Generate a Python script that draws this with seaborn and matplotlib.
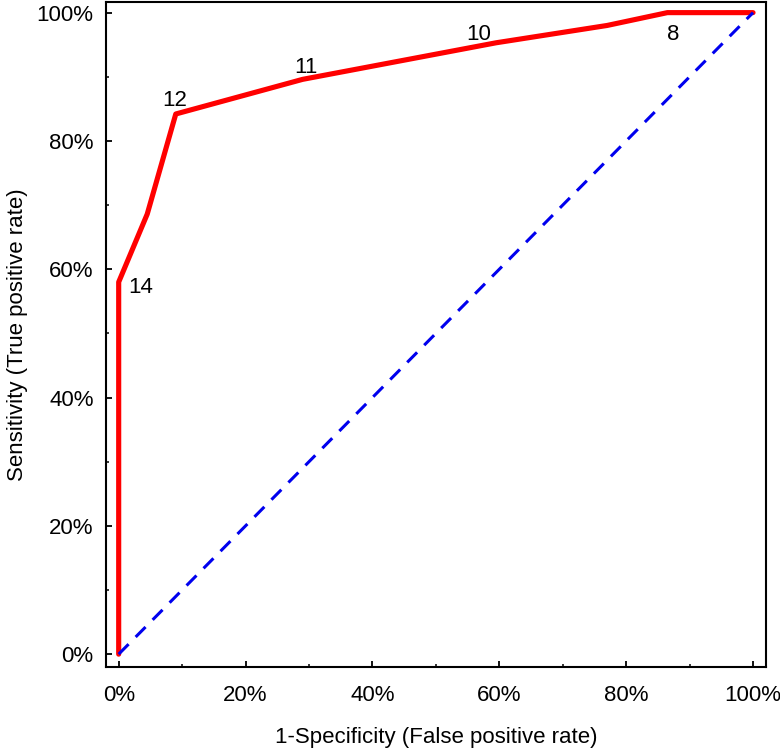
import matplotlib
matplotlib.use("Agg")
import matplotlib.pyplot as plt
import matplotlib.ticker as mticker
import seaborn as sns
import pandas as pd

# ROC curve (percent)
fpr = [0, 0, 4.5, 9.0, 29.0, 59.5, 77.0, 86.5, 100]
tpr = [0, 58.0, 68.6, 84.2, 89.6, 95.3, 98.0, 100, 100]

# cut-off labels and where they sit
cut_labels = ["14", "12", "11", "10", "8"]
cut_x = [3.4, 8.9, 29.5, 56.7, 87.4]
cut_y = [57.2, 86.3, 91.4, 96.6, 96.6]

diag = [0, 100]

sns.set_style("ticks")
plt.rcParams["font.family"] = ["Liberation Sans", "DejaVu Sans"]
plt.rcParams["text.color"] = "black"
plt.rcParams["axes.labelcolor"] = "black"

fig = plt.figure(figsize=(7.8, 7.48), dpi=100)
ax = fig.add_axes([0.1359, 0.1083, 0.8458, 0.8894])

df = pd.DataFrame({"fpr": fpr, "tpr": tpr})
sns.lineplot(data=df, x="fpr", y="tpr", sort=False, estimator=None,
             color="#ff0000", linewidth=3.7, ax=ax,
             solid_capstyle="round", solid_joinstyle="round")
sns.lineplot(x=diag, y=diag, color="#0000ee", linewidth=2.2,
             estimator=None, ax=ax)
ax.lines[-1].set_dashes([4.6, 3.3])

for lab, x, y in zip(cut_labels, cut_x, cut_y):
    ax.text(x, y, lab, fontsize=16, ha="center", va="center", color="black")

ax.set_xlim(-2, 102)
ax.set_ylim(-2, 101.7)

ax.xaxis.set_major_locator(mticker.MultipleLocator(20))
ax.xaxis.set_minor_locator(mticker.MultipleLocator(10))
ax.yaxis.set_major_locator(mticker.MultipleLocator(20))
ax.yaxis.set_minor_locator(mticker.MultipleLocator(10))
pct = mticker.FuncFormatter(lambda v, p: f"{v:.0f}%")
ax.xaxis.set_major_formatter(pct)
ax.yaxis.set_major_formatter(pct)

ax.tick_params(which="major", direction="in", length=4, width=1.3,
               labelsize=16, colors="black")
ax.tick_params(which="minor", direction="in", length=2.5, width=1.1,
               colors="black")
ax.tick_params(axis="x", pad=13)
ax.tick_params(axis="y", pad=9)

for s in ax.spines.values():
    s.set_visible(True)
    s.set_linewidth(1.5)
    s.set_color("black")

ax.set_xlabel("1-Specificity (False positive rate)", fontsize=16, labelpad=15)
ax.set_ylabel("Sensitivity (True positive rate)", fontsize=16, labelpad=6)

fig.savefig("out.png", dpi=100)
